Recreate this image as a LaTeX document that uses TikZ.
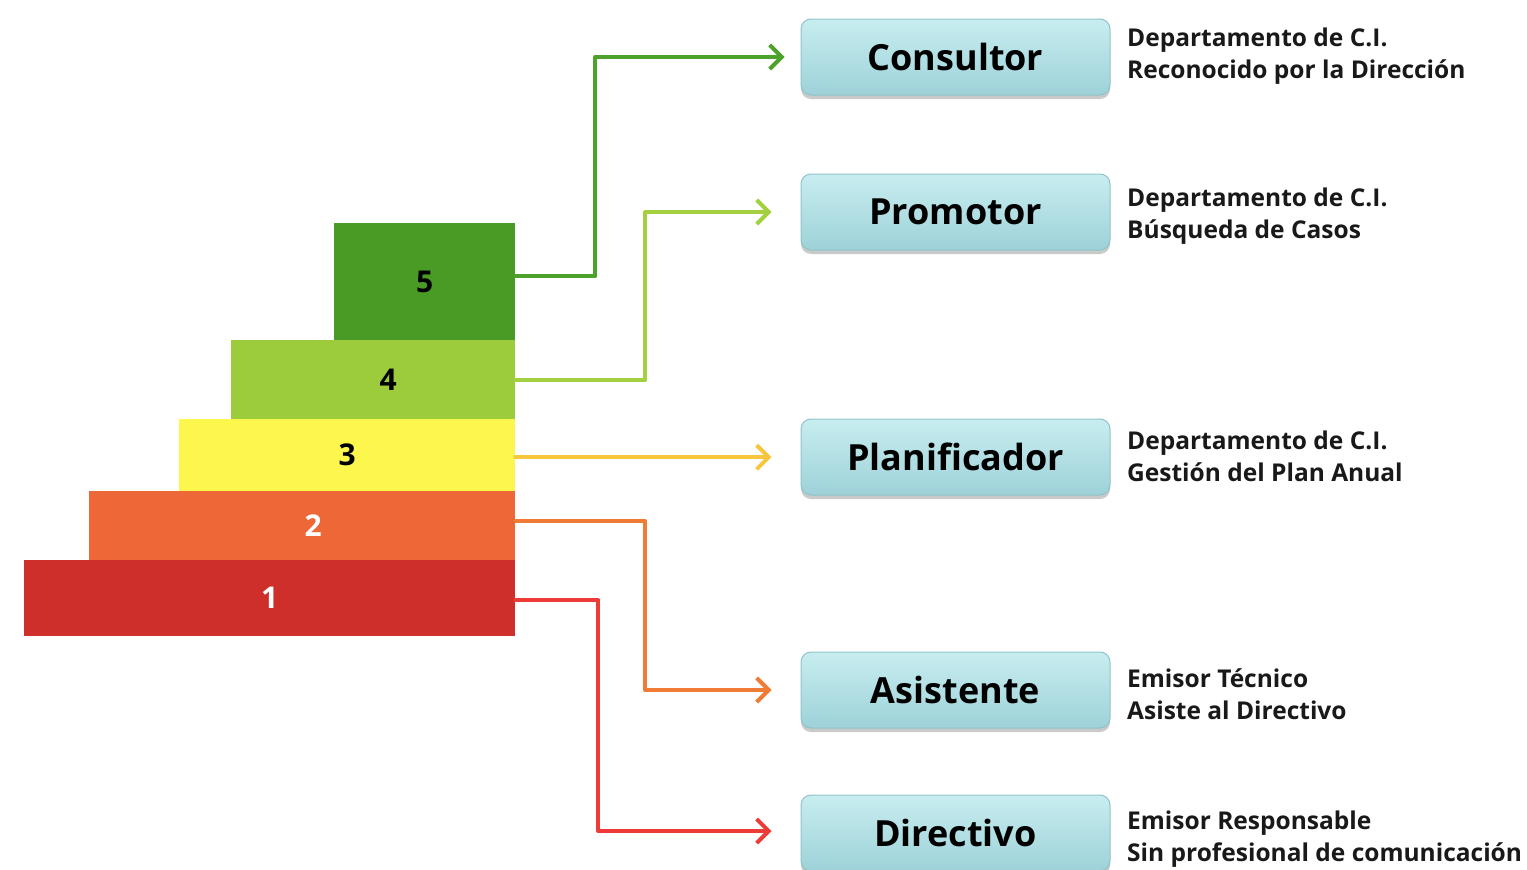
\documentclass[tikz,border=0pt]{standalone}
\usepackage{fontspec}
\setmainfont{Open Sans}
\usetikzlibrary{arrows.meta,shadows,calc}
\definecolor{cfive}{HTML}{4A9B25}
\definecolor{cfour}{HTML}{9CCC3B}
\definecolor{cthree}{HTML}{FCF64D}
\definecolor{ctwo}{HTML}{EE6736}
\definecolor{cone}{HTML}{CF2F2A}
\definecolor{lfive}{HTML}{4CA22B}
\definecolor{lfour}{HTML}{A2D03E}
\definecolor{lthree}{HTML}{F8C63C}
\definecolor{ltwo}{HTML}{F07B34}
\definecolor{lone}{HTML}{EE3B37}
\definecolor{btop}{HTML}{C8EDF0}
\definecolor{bbot}{HTML}{9DD2D8}
\definecolor{bedge}{HTML}{8FC3C9}
\tikzset{
  stairbox/.style={anchor=north west, inner sep=0pt, font=\fontsize{30}{30}\selectfont\bfseries},
  btn/.style={rounded corners=10pt, minimum width=309pt, minimum height=76pt,
    top color=btop, bottom color=bbot, draw=bedge, line width=1pt,
    drop shadow={shadow xshift=0pt, shadow yshift=-4pt, opacity=0.35, fill=black!60},
    font=\fontsize{36}{36}\selectfont\bfseries, text=black},
  desc/.style={anchor=west, align=left, inner sep=0pt,
    font=\fontsize{24.5}{32}\selectfont\bfseries, text=black!90},
  conn/.style={line width=4pt, line cap=round, line join=round,
    -{Straight Barb[length=12pt,width=24pt,line width=4pt]}},
}
\begin{document}
\begin{tikzpicture}[x=1pt,y=-1pt]
\useasboundingbox (0,0) rectangle (1527,870);
% stairs
\node[stairbox, fill=cone, minimum width=491pt, minimum height=76pt, text=white] (s1) at (24,560) {1};
\node[stairbox, fill=ctwo, minimum width=426pt, minimum height=69pt, text=white] (s2) at (89,491) {\hspace*{22pt}2};
\node[stairbox, fill=cthree, minimum width=336pt, minimum height=72pt] (s3) at (179,419) {3};
\node[stairbox, fill=cfour, minimum width=284pt, minimum height=79pt] (s4) at (231,340) {\hspace*{30pt}4};
\node[stairbox, fill=cfive, minimum width=181pt, minimum height=117pt] (s5) at (334,223) {5};
% buttons
\node[btn] (b1) at (955.5,57) {Consultor};
\node[btn] (b2) at (955.5,212) {Promotor};
\node[btn] (b3) at (955.5,457) {Planificador};
\node[btn] (b4) at (955.5,690) {Asistente};
\node[btn] (b5) at (955.5,833) {Directivo};
% descriptions
\node[desc] (d1) at (1127,56) {Departamento de C.I.\\Reconocido por la Dirección};
\node[desc] (d2) at (1127,216) {Departamento de C.I.\\Búsqueda de Casos};
\node[desc] (d3) at (1127,456) {Departamento de C.I.\\Gestión del Plan Anual};
\node[desc] (d4) at (1127,694) {Emisor Técnico\\Asiste al Directivo};
\node[desc] (d5) at (1127,839) {Emisor Responsable\\Sin profesional de comunicación};
% connectors
\draw[conn, lfive] ([yshift=5.5pt]s5.east) -- ++(80,0) |- ([xshift=-16pt]b1.west);
\draw[conn, lfour] (s4.east) -- ++(130,0) |- ([xshift=-29pt]b2.west);
\draw[conn, lthree] ([yshift=-2pt]s3.east) -- ([xshift=-29pt,yshift=-2pt]s3.east -| b3.west);
\draw[conn, ltwo] ([yshift=4.5pt]s2.east) -- ++(130,0) |- ([xshift=-29pt]b4.west);
\draw[conn, lone] ([yshift=-2pt]s1.east) -- ++(83,0) |- ([xshift=-29pt,yshift=2pt]b5.west);
\end{tikzpicture}
\end{document}
